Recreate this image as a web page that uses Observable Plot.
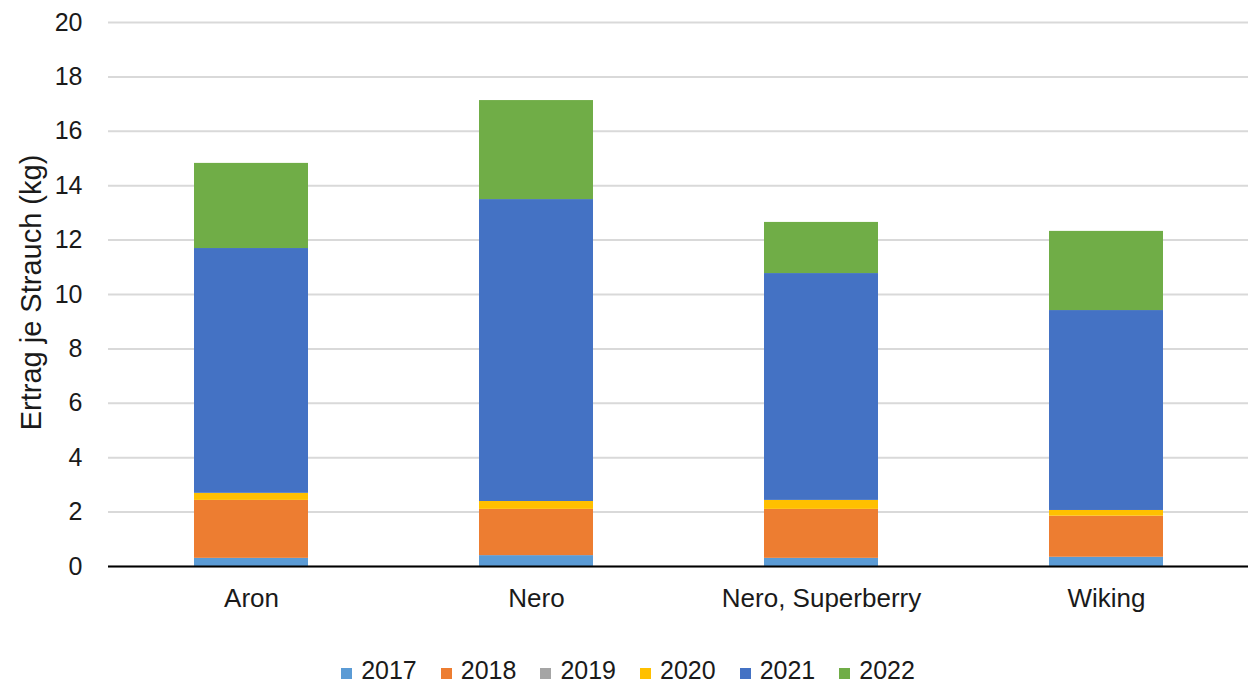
<!DOCTYPE html>
<html>
<head>
<meta charset="utf-8">
<script src="https://cdn.jsdelivr.net/npm/d3@7"></script>
<script src="https://cdn.jsdelivr.net/npm/@observablehq/plot@0.6"></script>
<style>
  html, body { margin: 0; padding: 0; background: #fff; }
  body { width: 1252px; height: 687px; overflow: hidden; font-family: "Liberation Sans", Arial, sans-serif; }
  #legend { display: flex; justify-content: center; align-items: center; gap: 24px; margin-top: 15px; padding-left: 4px; font-size: 25px; line-height: 30px; color: #1a1a1a; }
  #legend .item { display: flex; align-items: center; gap: 9px; }
  #legend .sw { width: 11px; height: 11px; display: inline-block; margin-top: 6px; }
</style>
</head>
<body>
<div id="chart"></div>
<div id="legend"></div>
<script>
// Sorten (Kategorien) und Jahre (Serien)
const varieties = ["Aron", "Nero", "Nero, Superberry", "Wiking"];
const years = ["2017", "2018", "2019", "2020", "2021", "2022"];
const colors = ["#5B9BD5", "#ED7D31", "#A5A5A5", "#FFC000", "#4472C4", "#70AD47"];

// Ertrag je Strauch (kg) pro Jahr, Reihenfolge wie varieties
const y2017 = [0.30, 0.40, 0.30, 0.34];
const y2018 = [2.13, 1.70, 1.80, 1.51];
const y2019 = [0, 0, 0, 0];
const y2020 = [0.26, 0.29, 0.33, 0.21];
const y2021 = [9.00, 11.10, 8.34, 7.35];
const y2022 = [3.13, 3.64, 1.88, 2.91];

const yTicks = [0, 2, 4, 6, 8, 10, 12, 14, 16, 18, 20];

const series = [y2017, y2018, y2019, y2020, y2021, y2022];
const rows = [];
years.forEach((yr, j) => {
  varieties.forEach((v, i) => rows.push({ sorte: v, jahr: yr, ertrag: series[j][i] }));
});

const chart = Plot.plot({
  width: 1252,
  height: 640,
  marginLeft: 108,
  marginRight: 4,
  marginTop: 22,
  marginBottom: 74,
  style: { fontFamily: "Liberation Sans, Arial, sans-serif", fontSize: "26px", color: "#1a1a1a" },
  x: { domain: varieties, paddingInner: 0.6, paddingOuter: 0.3, label: null },
  y: { domain: [0, 20], ticks: yTicks, label: null },
  color: { domain: years, range: colors },
  marks: [
    Plot.gridY(yTicks, { stroke: "#d9d9d9", strokeOpacity: 1, strokeWidth: 2 }),
    Plot.axisY(yTicks, { tickSize: 0, tickPadding: 26, fontSize: 25, label: null }),
    Plot.text(["Ertrag je Strauch (kg)"], {
      frameAnchor: "left", textAnchor: "middle", lineAnchor: "middle",
      dx: -77, dy: -2, rotate: -90, fontSize: 29, fill: "#1a1a1a"
    }),
    Plot.axisX({ tickSize: 0, tickPadding: 22, fontSize: 26, label: null }),
    Plot.barY(rows, Plot.stackY({
      x: "sorte", y: "ertrag", fill: "jahr", order: years
    })),
    Plot.ruleY([0], { stroke: "#000", strokeWidth: 2 })
  ]
});
document.getElementById("chart").appendChild(chart);

const legend = document.getElementById("legend");
years.forEach((yr, j) => {
  const item = document.createElement("span");
  item.className = "item";
  const sw = document.createElement("span");
  sw.className = "sw";
  sw.style.background = colors[j];
  item.appendChild(sw);
  item.appendChild(document.createTextNode(yr));
  legend.appendChild(item);
});
</script>
</body>
</html>
